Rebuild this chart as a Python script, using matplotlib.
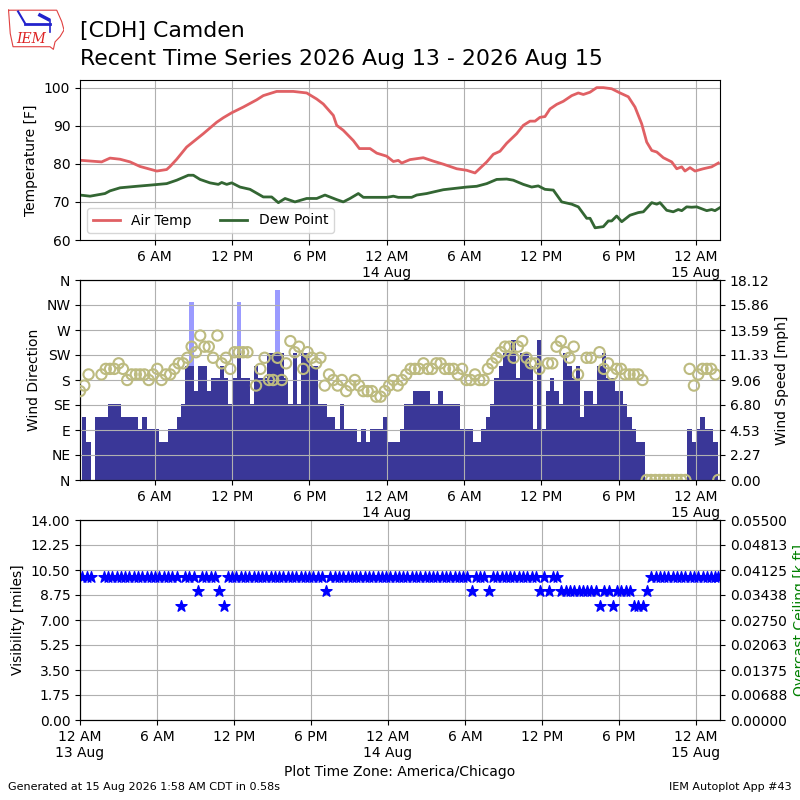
import numpy as np
import matplotlib
matplotlib.use("Agg")
import matplotlib.pyplot as plt

# hours after 12 AM 13 Aug (America/Chicago)
temp_hours = [0.19, 0.32, 1.87, 2.52, 3.30, 4.08, 4.85, 6.15, 6.92, 7.18, 7.70, 8.47, 9.76,
              10.80, 11.32, 11.97, 12.87, 13.91, 14.42, 15.46, 16.75, 17.79, 18.57, 19.08,
              19.86, 20.12, 20.63, 21.41, 21.88, 22.71, 23.23, 24.00, 24.52, 24.90, 25.17,
              25.81, 26.84, 27.62, 28.40, 29.44, 30.21, 30.86, 31.77, 32.28, 32.80, 33.32,
              34.09, 34.61, 35.13, 35.52, 35.90, 36.29, 36.68, 37.20, 37.71, 38.37, 38.88,
              39.27, 39.79, 40.31, 40.82, 41.47, 42.12, 42.76, 43.28, 43.80, 44.19, 44.58,
              44.97, 45.48, 46.13, 46.52, 46.91, 47.16, 47.55, 47.94, 48.58, 49.23, 49.75]
temp_f = [80.9, 80.9, 80.5, 81.5, 81.2, 80.5, 79.3, 78.1, 78.5, 79.3, 81.2, 84.4, 87.9,
          90.9, 92.1, 93.4, 94.9, 96.8, 97.9, 99.0, 99.0, 98.6, 97.0, 95.7,
          92.7, 90.1, 88.8, 86.1, 84.0, 84.0, 82.8, 82.0, 80.6, 80.9, 80.2,
          81.1, 81.6, 80.7, 79.9, 78.7, 78.3, 77.6, 80.5, 82.5, 83.3, 85.4,
          87.9, 90.1, 91.2, 91.2, 92.2, 92.4, 94.4, 95.6, 96.4, 97.9, 98.6,
          98.2, 98.8, 100.0, 100.0, 99.7, 98.6, 97.6, 94.9, 90.5, 85.7, 83.5,
          83.1, 81.6, 80.5, 78.7, 79.2, 78.1, 79.0, 78.1, 78.7, 79.2, 80.2]

dewp_hours = [0.19, 0.97, 2.13, 2.52, 3.30, 4.59, 5.62, 6.92, 7.70, 8.60, 8.99, 9.51, 10.28,
              10.93, 11.19, 11.58, 11.97, 12.61, 13.39, 14.42, 15.07, 15.59, 16.11, 16.88,
              17.79, 18.57, 19.21, 20.12, 20.63, 21.15, 21.80, 22.19, 24.00, 24.52, 24.90,
              25.94, 26.33, 27.11, 27.62, 28.40, 29.17, 30.21, 30.99, 31.77, 32.54, 33.32,
              33.83, 34.61, 35.26, 35.77, 36.29, 36.94, 37.59, 38.37, 38.88, 39.53, 39.79,
              40.18, 40.82, 41.21, 41.47, 41.86, 42.25, 42.89, 43.54, 43.93, 44.58, 44.97,
              45.22, 45.74, 46.25, 46.64, 46.91, 47.29, 47.68, 48.07, 48.85, 49.23, 49.49,
              49.88]
dewp_f = [71.8, 71.5, 72.2, 72.9, 73.7, 74.1, 74.4, 74.8, 75.7, 77.0, 77.0, 75.9, 75.0,
          74.6, 75.1, 74.6, 75.0, 73.9, 73.3, 71.3, 71.3, 69.8, 70.9, 70.0,
          70.9, 70.9, 71.8, 70.6, 70.0, 70.9, 72.2, 71.2, 71.2, 71.5, 71.2,
          71.2, 71.8, 72.2, 72.6, 73.2, 73.5, 73.9, 74.1, 74.8, 75.9, 76.0,
          75.7, 74.6, 73.9, 74.2, 73.3, 73.1, 70.0, 69.4, 68.7, 65.7, 65.7,
          63.2, 63.5, 65.0, 65.0, 66.3, 64.8, 66.5, 67.2, 67.4, 69.8, 69.4,
          69.8, 67.8, 67.4, 68.0, 67.7, 68.7, 68.6, 68.7, 67.7, 68.0, 67.7,
          68.5]

# 20 minute reports starting 12:11 AM 13 Aug, plus a final special report
first_report = 0.19
report_step = 1.0 / 3.0
n_routine = 149
last_special = 49.75

sknt = [None, 5, 3, None, 5, 5, 5, 6, 6, 6,
        5, 5, 5, 5, 4, 5, 4, 4, 4, 3,
        3, 4, 4, 5, 6, 9, 9, 7, 9, 9,
        7, 8, 8, 9, 8, 6, 8, 10, 8, 8,
        6, 9, 8, 8, 10, 10, 10, 10, 8, 6,
        10, 6, 10, 10, 9, 9, 6, 6, 5, 5,
        4, 6, 4, 4, 4, 3, 4, 3, 4, 4,
        4, 5, 3, 3, 3, 4, 6, 6, 7, 7,
        7, 7, 6, 6, 7, 6, 6, 6, 6, 4,
        4, 4, 3, 3, 4, 5, 6, 8, 9, 10,
        10, 11, 8, 10, 10, 9, 4, 11, 4, 7,
        8, 7, 6, 10, 9, 8, 9, 5, 7, 7,
        6, 9, 10, 8, 8, 7, 7, 6, 5, 4,
        3, 3, 0, 0, 0, 0, 0, 0, 0, 0,
        0, 0, 4, 3, 4, 5, 4, 4, 3, 0]
gust_report = [26, 37, 46]
gust_kt = [14, 14, 15]
drct = [160, 170, 190, None, None, 190, 200, 200, 200, 210,
        200, 180, 190, 190, 190, 190, 180, 190, 200, 180,
        190, 190, 200, 210, 210, 220, 240, 230, 260, 240,
        240, 220, 260, 210, 220, 200, 230, 230, 230, 230,
        None, 170, 200, 220, 180, 180, 220, 180, 210, 250,
        230, 240, 200, 230, 220, 210, 220, 170, 190, 180,
        170, 180, 160, 170, 180, 170, 160, 160, 160, 150,
        150, 160, 170, 180, 170, 180, 190, 200, 200, 200,
        210, 200, 200, 210, 210, 200, 200, 200, 190, 200,
        180, 180, 190, 180, 180, 200, 210, 220, 230, 240,
        240, 220, 240, 250, 220, 210, 210, 200, None, 210,
        210, 240, 250, 230, 220, 240, 190, None, 220, 220,
        None, 230, 200, 210, 190, 200, 200, 190, 190, 190,
        190, 180, 0, 0, 0, 0, 0, 0, 0, 0,
        0, 0, 200, 170, 190, 200, 200, 200, 190, 0]
vsby = [10, 10, 10, None, None, 10, 10, 10, 10, 10,
        10, 10, 10, 10, 10, 10, 10, 10, 10, 10,
        10, 10, 10, 8, 10, 10, 10, 9, 10, 10,
        10, 10, 9, 8, 10, 10, 10, 10, 10, 10,
        10, 10, 10, 10, 10, 10, 10, 10, 10, 10,
        10, 10, 10, 10, 10, 10, 10, 9, 10, 10,
        10, 10, 10, 10, 10, 10, 10, 10, 10, 10,
        10, 10, 10, 10, 10, 10, 10, 10, 10, 10,
        10, 10, 10, 10, 10, 10, 10, 10, 10, 10,
        10, 9, 10, 10, 10, 9, 10, 10, 10, 10,
        10, 10, 10, 10, 10, 10, 10, 9, 10, 9,
        10, 10, 9, 9, 9, 9, 9, 9, 9, 9,
        9, 8, 9, 9, 8, 9, 9, 9, 9, 8,
        8, 8, 9, 10, 10, 10, 10, 10, 10, 10,
        10, 10, 10, 10, 10, 10, 10, 10, 10, 10]

tick_hours = [0, 6, 12, 18, 24, 30, 36, 42, 48]
tick_labels = ["12 AM\n13 Aug", "6 AM", "12 PM", "6 PM", "12 AM\n14 Aug",
               "6 AM", "12 PM", "6 PM", "12 AM\n15 Aug"]
drct_labels = ["N", "NE", "E", "SE", "S", "SW", "W", "NW", "N"]
ceiling_labels = ["0.00000", "0.00688", "0.01375", "0.02063", "0.02750",
                  "0.03438", "0.04125", "0.04813", "0.05500"]
plot_end = 49.88
KT2MPH = 1.15078

obs_t = np.append(first_report + np.arange(n_routine) * report_step, last_special)
speed = np.array(sknt, dtype=float) * KT2MPH
gust = np.array(gust_kt, dtype=float) * KT2MPH
direction = np.array(drct, dtype=float)
vis = np.array(vsby, dtype=float)

fig = plt.figure(figsize=(8, 8), dpi=100)

# temperature
ax1 = fig.add_axes([0.1, 0.7, 0.8, 0.2])
ax1.plot(temp_hours, temp_f, color="#e06064", lw=2, label="Air Temp")
ax1.plot(dewp_hours, dewp_f, color="#336633", lw=2, label="Dew Point")
ax1.set_ylim(60, 102)
ax1.set_yticks([60, 70, 80, 90, 100])
ax1.set_ylabel("Temperature [F]")
ax1.grid(True)
ax1.legend(loc="lower left", ncol=2)

# wind
ax2 = fig.add_axes([0.1, 0.4, 0.8, 0.25])
ax2b = ax2.twinx()
ax2b.bar(obs_t[gust_report], gust, width=report_step, color="#9b9bff", lw=0)
ax2b.bar(obs_t, speed, width=report_step, color="#3a3798", lw=0)
ymax = gust.max() * 1.05
ax2b.set_ylim(0, ymax)
ax2b.set_yticks(np.linspace(0, ymax, 9))
ax2b.set_yticklabels(["%.2f" % v for v in np.linspace(0, ymax, 9)])
ax2b.set_ylabel("Wind Speed [mph]")
ax2.scatter(obs_t, direction, s=55, facecolors="none", edgecolors="#bdbb80", lw=1.5, zorder=3)
ax2.set_ylim(0, 360)
ax2.set_yticks(range(0, 361, 45))
ax2.set_yticklabels(drct_labels)
ax2.set_ylabel("Wind Direction")
ax2.grid(True)
ax2.set_zorder(ax2b.get_zorder() + 1)
ax2.patch.set_visible(False)

# visibility
ax3 = fig.add_axes([0.1, 0.1, 0.8, 0.25])
ax3.scatter(obs_t, vis, marker="*", s=70, color="b", zorder=3)
ax3.set_ylim(0, 14)
ax3.set_yticks(np.arange(0, 14.01, 1.75))
ax3.set_yticklabels(["%.2f" % v for v in np.arange(0, 14.01, 1.75)])
ax3.set_ylabel("Visibility [miles]")
ax3.set_xlabel("Plot Time Zone: America/Chicago")
ax3.grid(True)
ax3b = ax3.twinx()
ax3b.set_ylim(0, 0.055)
ax3b.set_yticks(np.linspace(0, 0.055, 9))
ax3b.set_yticklabels(ceiling_labels)
ax3b.set_ylabel("Overcast Ceiling [k ft]", color="g")

for ax in (ax1, ax2, ax3):
    ax.set_xticks(tick_hours)
    ax.set_xticklabels(tick_labels)
ax1.set_xlim(first_report, plot_end)
ax2.set_xlim(first_report, plot_end)
ax3.set_xlim(0, plot_end)

fig.text(0.1, 1 - 37 / 800., "[CDH] Camden", fontsize=15.8, va="baseline")
fig.text(0.1, 1 - 65 / 800., "Recent Time Series 2026 Aug 13 - 2026 Aug 15",
         fontsize=15.8, va="baseline")
fig.text(0.01, 0.012, "Generated at 15 Aug 2026 1:58 AM CDT in 0.58s", fontsize=8)
fig.text(0.99, 0.012, "IEM Autoplot App #43", fontsize=8, ha="right")

# IEM logo
logo = fig.add_axes([0.01, 0.935, 0.07, 0.055])
logo.set_xlim(0, 1)
logo.set_ylim(0, 1)
logo.axis("off")
iowa_x = [0.01, 0.87, 0.96, 1.0, 0.93, 0.84, 0.81, 0.75, 0.09, 0.04, 0.01]
iowa_y = [0.95, 0.95, 0.69, 0.5, 0.35, 0.23, 0.06, 0.12, 0.12, 0.42, 0.95]
logo.plot(iowa_x, iowa_y, color="#e04040", lw=0.8)
logo.plot([0.30, 0.75], [0.64, 0.64], color="#2222cc", lw=2)
logo.plot([0.18, 0.30], [0.92, 0.66], color="#2222cc", lw=1.5)
logo.plot([0.57, 0.72], [0.84, 0.74], color="#2222cc", lw=2.5)
logo.plot([0.75, 0.75], [0.73, 0.46], color="#2222cc", lw=1.2)
logo.text(0.42, 0.3, "IEM", color="#dd2222", fontsize=10, family="DejaVu Serif",
          style="italic", ha="center", va="center")

fig.savefig("out.png", dpi=100)
